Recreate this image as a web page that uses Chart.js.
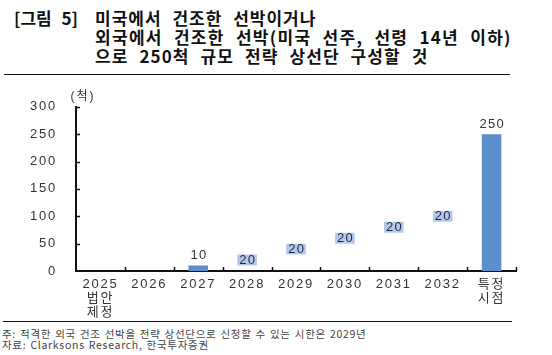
<!DOCTYPE html>
<html>
<head>
<meta charset="utf-8">
<script src="https://cdn.jsdelivr.net/npm/chart.js@4"></script>
<style>
  html, body { margin:0; padding:0; background:#fff; }
  body { width:552px; height:355px; position:relative; overflow:hidden;
         font-family:'Noto Sans CJK KR', 'Noto Sans', sans-serif; }
  .t { position:absolute; font-size:17px; line-height:19px; font-weight:bold; color:#111; white-space:nowrap; word-spacing:6px; }
  .rule { position:absolute; height:0; border-top:1.5px solid #111; }
  .f { position:absolute; left:2px; font-size:10.5px; line-height:11px; color:#444; white-space:nowrap; letter-spacing:0.7px; word-spacing:1px; }
  #wrap { position:absolute; left:0; top:80px; width:552px; height:240px; }
</style>
</head>
<body>
<div class="t" style="left:14px; top:8px; letter-spacing:0px;">[그림 5]</div>
<div class="t" style="left:95px; top:8px; letter-spacing:1px;">미국에서 건조한 선박이거나</div>
<div class="t" style="left:95px; top:27px; letter-spacing:1.3px;">외국에서 건조한 선박(미국 선주, 선령 14년 이하)</div>
<div class="t" style="left:95px; top:46px; letter-spacing:1.1px;">으로 250척 규모 전략 상선단 구성할 것</div>
<div class="rule" style="left:4px; width:506px; top:74px;"></div>

<div id="wrap"><canvas id="c" width="552" height="240"></canvas></div>

<div class="rule" style="left:3px; width:509px; top:321px; border-top-width:1.2px;"></div>
<div class="f" style="top:328px;">주: 적격한 외국 건조 선박을 전략 상선단으로 신청할 수 있는 시한은 2029년</div>
<div class="f" style="top:339px;">자료: Clarksons Research, 한국투자증권</div>

<script>
// ---- data ----
const categories = [['2025','법안','제정'], '2026', '2027', '2028', '2029', '2030', '2031', '2032', ['특정','시점']];
const increments = [null, null, 10, 20, 20, 20, 20, 20, 250];   // label values (ships added)
const barBases   = [null, null, 0, 10, 30, 50, 70, 90, 0];      // where each bar starts
const yTicks     = [0, 50, 100, 150, 200, 250, 300];
const unitLabel  = '(척)';

const DARK = '#5b8fcd';
const LIGHT = '#b4c7e7';
const barColors = [DARK, DARK, DARK, LIGHT, LIGHT, LIGHT, LIGHT, LIGHT, DARK];
const FONT = "'Liberation Sans', 'Noto Sans CJK KR', sans-serif";
const LS = '1.8px';

const floatingData = increments.map((v, i) => v == null ? null : [barBases[i], barBases[i] + v]);

const spacing = {
  id: 'spacing',
  beforeInit(chart) { chart.ctx.letterSpacing = LS; },
  beforeDraw(chart) { chart.ctx.letterSpacing = LS; }
};

const extras = {
  id: 'extras',
  afterDraw(chart) {
    const ctx = chart.ctx;
    const xs = chart.scales.x, ys = chart.scales.y;
    const area = chart.chartArea;
    ctx.save();
    ctx.letterSpacing = '1.3px';
    // axis tick marks (inside)
    ctx.strokeStyle = '#111';
    ctx.lineWidth = 1.5;
    ctx.beginPath();
    for (let i = 1; i <= categories.length; i++) {
      const x = i < categories.length ? (xs.getPixelForValue(i - 1) + xs.getPixelForValue(i)) / 2 : area.right;
      ctx.moveTo(Math.round(x) + 0.5, area.bottom);
      ctx.lineTo(Math.round(x) + 0.5, area.bottom - 4);
    }
    yTicks.forEach(v => {
      if (v === 0) return;
      const y = ys.getPixelForValue(v);
      ctx.moveTo(area.left, Math.round(y) + 0.5);
      ctx.lineTo(area.left + 4, Math.round(y) + 0.5);
    });
    ctx.stroke();

    // value labels
    const meta = chart.getDatasetMeta(0);
    ctx.font = '13px ' + FONT;
    ctx.textAlign = 'center';
    ctx.textBaseline = 'middle';
    meta.data.forEach((bar, i) => {
      const v = increments[i];
      if (v == null) return;
      if (barColors[i] === DARK) {
        ctx.fillStyle = '#333';
        ctx.fillText(String(v), bar.x + 0.7, bar.y - 10);
      } else {
        ctx.fillStyle = '#1e2b4a';
        ctx.fillText(String(v), bar.x + 0.7, (bar.y + bar.base) / 2 + 0.5);
      }
    });

    // unit label
    ctx.font = '12px ' + FONT;
    ctx.letterSpacing = '2px';
    ctx.fillStyle = '#333';
    ctx.fillText(unitLabel, area.left + 7, area.top - 10);
    ctx.restore();
  }
};

new Chart(document.getElementById('c'), {
  type: 'bar',
  data: {
    labels: categories,
    datasets: [{
      data: floatingData,
      backgroundColor: barColors,
      borderWidth: 0,
      categoryPercentage: 0.8,
      barPercentage: 0.5
    }]
  },
  options: {
    responsive: false,
    animation: false,
    events: [],
    layout: { padding: { top: 20, right: 36, left: 0, bottom: 0 } },
    plugins: { legend: { display: false }, tooltip: { enabled: false } },
    scales: {
      x: {
        grid: { display: false, drawTicks: false },
        border: { display: true, color: '#111', width: 2 },
        ticks: {
          color: '#333',
          padding: 7,
          maxRotation: 0,
          autoSkip: false,
          font: { family: FONT, size: 13, lineHeight: 1.05 }
        },
        afterFit(s) { s.height = 49; }
      },
      y: {
        min: 0, max: 300,
        afterBuildTicks(s) { s.ticks = yTicks.map(v => ({ value: v })); },
        grid: { display: false, drawTicks: false },
        border: { display: true, color: '#111', width: 2 },
        ticks: {
          color: '#333',
          padding: 19,
          font: { family: FONT, size: 13 }
        },
        afterFit(s) { s.width = 76; }
      }
    }
  },
  plugins: [spacing, extras]
});
</script>
</body>
</html>
